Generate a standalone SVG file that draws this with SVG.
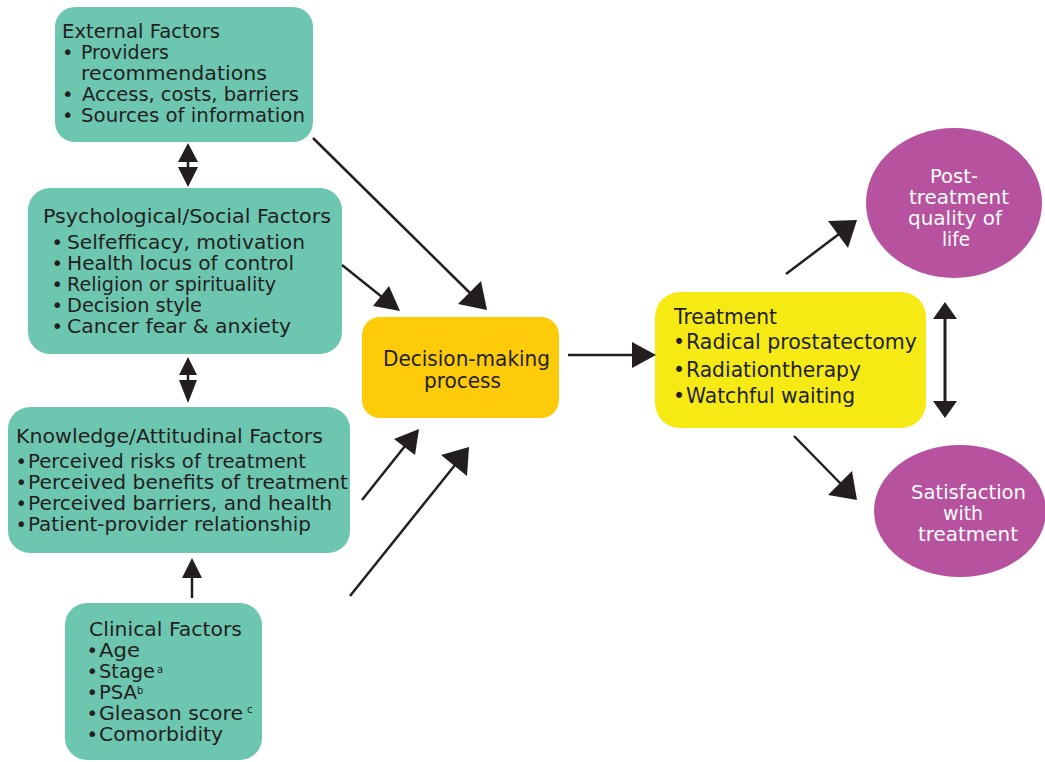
<svg xmlns="http://www.w3.org/2000/svg" width="1045" height="762" viewBox="0 0 1045 762">
<style>
.teal{fill:#6DC6B0}
.dec{fill:#FECB0A}
.trt{fill:#F5EA14}
.pur{fill:#B6529E}
text{font-family:"DejaVu Sans","Liberation Sans",sans-serif;fill:#231F20}
.t18{font-size:19.5px}
.t19{font-size:20.5px}
.t20{font-size:21px}
.w{fill:#FFFFFF;font-size:19.5px}
.sup{font-size:10px}
.ln{stroke:#231F20;stroke-width:2.5;fill:none}
.hd{fill:#231F20}
</style>
<rect width="1045" height="762" fill="#FFFFFF"/>

<g id="external">
<rect class="teal" x="55" y="7" width="258" height="135" rx="20"/>
<text class="t18" x="62" y="38" textLength="158" lengthAdjust="spacingAndGlyphs">External Factors</text>
<text class="t18" y="59"><tspan x="62">•</tspan><tspan x="81" textLength="88" lengthAdjust="spacingAndGlyphs">Providers</tspan></text>
<text class="t18" x="81" y="80" textLength="186" lengthAdjust="spacingAndGlyphs">recommendations</text>
<text class="t18" y="101"><tspan x="62">•</tspan><tspan x="82" textLength="217" lengthAdjust="spacingAndGlyphs">Access, costs, barriers</tspan></text>
<text class="t18" y="122"><tspan x="62">•</tspan><tspan x="81" textLength="224" lengthAdjust="spacingAndGlyphs">Sources of information</tspan></text>
</g>

<g id="psych">
<rect class="teal" x="28" y="188" width="314" height="166" rx="22"/>
<text class="t18" x="43" y="223" textLength="288" lengthAdjust="spacingAndGlyphs">Psychological/Social Factors</text>
<text class="t18" y="249"><tspan x="51.5">•</tspan><tspan x="67" textLength="238" lengthAdjust="spacingAndGlyphs">Selfefficacy, motivation</tspan></text>
<text class="t18" y="270"><tspan x="51.5">•</tspan><tspan x="67" textLength="227" lengthAdjust="spacingAndGlyphs">Health locus of control</tspan></text>
<text class="t18" y="291"><tspan x="51.5">•</tspan><tspan x="67" textLength="209" lengthAdjust="spacingAndGlyphs">Religion or spirituality</tspan></text>
<text class="t18" y="312"><tspan x="51.5">•</tspan><tspan x="67" textLength="135" lengthAdjust="spacingAndGlyphs">Decision style</tspan></text>
<text class="t18" y="333"><tspan x="51.5">•</tspan><tspan x="67" textLength="224" lengthAdjust="spacingAndGlyphs">Cancer fear &amp; anxiety</tspan></text>
</g>

<g id="knowledge">
<rect class="teal" x="8" y="407" width="342" height="146" rx="22"/>
<text class="t18" x="16" y="443" textLength="307" lengthAdjust="spacingAndGlyphs">Knowledge/Attitudinal Factors</text>
<text class="t18" y="468"><tspan x="15.5">•</tspan><tspan x="28" textLength="278" lengthAdjust="spacingAndGlyphs">Perceived risks of treatment</tspan></text>
<text class="t18" y="489"><tspan x="15.5">•</tspan><tspan x="28" textLength="320" lengthAdjust="spacingAndGlyphs">Perceived benefits of treatment</tspan></text>
<text class="t18" y="510"><tspan x="15.5">•</tspan><tspan x="28" textLength="304" lengthAdjust="spacingAndGlyphs">Perceived barriers, and health</tspan></text>
<text class="t18" y="531"><tspan x="15.5">•</tspan><tspan x="28" textLength="283" lengthAdjust="spacingAndGlyphs">Patient-provider relationship</tspan></text>
</g>

<g id="clinical">
<rect class="teal" x="65" y="603" width="197" height="157" rx="22"/>
<text class="t18" x="89" y="636" textLength="153" lengthAdjust="spacingAndGlyphs">Clinical Factors</text>
<text class="t18" y="657"><tspan x="86.5">•</tspan><tspan x="99" textLength="41" lengthAdjust="spacingAndGlyphs">Age</tspan></text>
<text class="t18" y="678"><tspan x="86.5">•</tspan><tspan x="99" textLength="56" lengthAdjust="spacingAndGlyphs">Stage</tspan><tspan class="sup" x="157" dy="-5">a</tspan></text>
<text class="t18" y="699"><tspan x="86.5">•</tspan><tspan x="99" textLength="38" lengthAdjust="spacingAndGlyphs">PSA</tspan><tspan class="sup" x="137" dy="-5">b</tspan></text>
<text class="t18" y="720"><tspan x="86.5">•</tspan><tspan x="99" textLength="144" lengthAdjust="spacingAndGlyphs">Gleason score</tspan><tspan class="sup" x="247" dy="-7">c</tspan></text>
<text class="t18" y="741"><tspan x="86.5">•</tspan><tspan x="99" textLength="124" lengthAdjust="spacingAndGlyphs">Comorbidity</tspan></text>
</g>

<g id="decision">
<rect class="dec" x="362" y="317" width="197" height="101" rx="18"/>
<text class="t20" x="383" y="366" textLength="167" lengthAdjust="spacingAndGlyphs">Decision-making</text>
<text class="t20" x="424" y="388" textLength="77" lengthAdjust="spacingAndGlyphs">process</text>
</g>

<g id="treatment">
<rect class="trt" x="655" y="292" width="271" height="136" rx="25"/>
<text class="t19" x="674" y="324" textLength="103" lengthAdjust="spacingAndGlyphs">Treatment</text>
<text class="t19" y="349"><tspan x="673">•</tspan><tspan x="686" textLength="231" lengthAdjust="spacingAndGlyphs">Radical prostatectomy</tspan></text>
<text class="t19" y="377"><tspan x="673">•</tspan><tspan x="686" textLength="175" lengthAdjust="spacingAndGlyphs">Radiationtherapy</tspan></text>
<text class="t19" y="403"><tspan x="673">•</tspan><tspan x="686" textLength="169" lengthAdjust="spacingAndGlyphs">Watchful waiting</tspan></text>
</g>

<g id="qol">
<ellipse class="pur" cx="954" cy="203" rx="88" ry="75"/>
<text class="w"><tspan x="930" y="183" textLength="48" lengthAdjust="spacingAndGlyphs">Post-</tspan><tspan x="909" y="204" textLength="100" lengthAdjust="spacingAndGlyphs">treatment</tspan><tspan x="908" y="225" textLength="94" lengthAdjust="spacingAndGlyphs">quality of</tspan><tspan x="942" y="246" textLength="28" lengthAdjust="spacingAndGlyphs">life</tspan></text>
</g>

<g id="satisfaction">
<ellipse class="pur" cx="960" cy="511" rx="86" ry="66"/>
<text class="w"><tspan x="911" y="499" textLength="115" lengthAdjust="spacingAndGlyphs">Satisfaction</tspan><tspan x="943" y="520" textLength="40" lengthAdjust="spacingAndGlyphs">with</tspan><tspan x="918" y="541" textLength="100" lengthAdjust="spacingAndGlyphs">treatment</tspan></text>
</g>

<g id="connectors">
<line class="ln" x1="313" y1="138" x2="470" y2="293"/>
<polygon class="hd" points="487,310 458,304 481,281"/>
<line class="ln" x1="342" y1="265" x2="382" y2="297"/>
<polygon class="hd" points="400,311 373,306 389,286"/>
<line class="ln" x1="362" y1="500" x2="405" y2="446"/>
<polygon class="hd" points="419,429 415,455 394,439"/>
<line class="ln" x1="350" y1="596" x2="455" y2="465"/>
<polygon class="hd" points="469,447 467,476 441,455"/>
<line class="ln" x1="568" y1="355" x2="634" y2="355"/>
<polygon class="hd" points="656,355 632,342 632,368"/>
<line class="ln" x1="786" y1="274" x2="839" y2="234"/>
<polygon class="hd" points="857,220 848,248 828,221"/>
<line class="ln" x1="794" y1="436" x2="841" y2="484"/>
<polygon class="hd" points="857,500 828,495 852,471"/>
<line class="ln" x1="945" y1="316" x2="945" y2="404" style="stroke-width:3"/>
<polygon class="hd" points="945,302 933,319 957,319"/>
<polygon class="hd" points="945,418 933,401 957,401"/>
<line class="ln" x1="188" y1="160" x2="188" y2="170"/>
<polygon class="hd" points="188,143 178,162 198,162"/>
<polygon class="hd" points="188,187 178,167 198,167"/>
<line class="ln" x1="188" y1="373" x2="188" y2="382"/>
<polygon class="hd" points="188,357 179,375 197,375"/>
<polygon class="hd" points="188,403 179,380 197,380"/>
<line class="ln" x1="192" y1="598" x2="192" y2="576"/>
<polygon class="hd" points="192,558 182,578 202,578"/>
</g>
</svg>
